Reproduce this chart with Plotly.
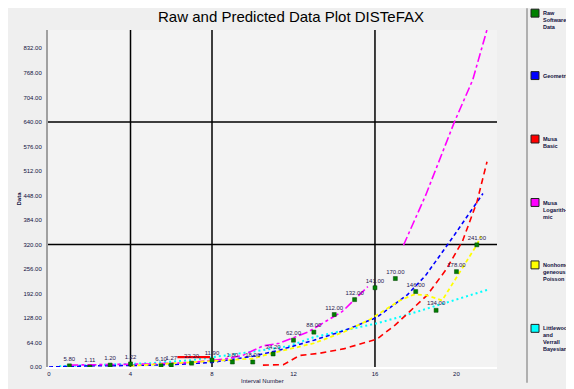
import plotly.graph_objects as go

# ---------------- data ----------------
raw_x = [1, 2, 3, 4, 5.5, 6, 7, 8, 9, 10, 11, 12, 13, 14, 15, 16, 17, 18, 19, 20, 21]
raw_y = [3, 0, 5, 8, 3, 5, 10, 18, 13, 13, 34, 70, 91, 137, 176, 207, 231, 197, 148, 249, 319]
raw_labels = ["5.80", "1.11", "1.20", "1.22", "6.10", "1.27", "22.20", "11.90", "1.80", "18.00",
              "34.20", "62.00", "88.00", "112.00", "132.00", "141.00", "170.00", "146.00",
              "134.00", "178.00", "241.00"]

geo_x = [0, 2, 4, 6, 8, 10, 11.3, 13, 14.5, 16.1, 17.6, 18.5, 19.8, 21.3]
geo_y = [0, 3, 4, 6, 12, 28, 44, 70, 95, 130, 189, 240, 337, 453]

musab_x = [10.5, 11.5, 12.3, 13.3, 14.5, 16.1, 17.0, 18.55, 19.5, 20.3, 21.0, 21.5]
musab_y = [5, 6, 30, 36, 48, 73, 110, 187, 255, 329, 430, 536]
musab_step_x = [6.3, 7.9]
musab_step_y = [26, 26]

musal_x = [1, 3, 5, 7, 8.5, 9.5, 10.5, 11.3, 12.7, 14.4, 15.65]
musal_y = [5, 6, 8, 12, 20, 30, 55, 62, 91, 145, 210]
musal_pred_x = [17.4, 18.5, 19.9, 20.8, 21.5]
musal_pred_y = [318, 450, 640, 750, 881]

nhpp_x = [4, 8.5, 10, 11, 13, 14.5, 15.75, 17.2, 17.9, 18.1, 18.55, 19.3, 20.0, 21.0, 21.2]
nhpp_y = [3, 18, 22, 37, 62, 92, 124, 173, 189, 189, 187, 174, 233, 319, 342]

lv_x = [0.5, 2.5, 5, 7, 8.8, 10, 11.8, 13, 14.5, 16.1, 17.5, 19.05, 20.3, 21.55]
lv_y = [2, 5, 10, 18, 31, 40, 55, 78, 96, 114, 135, 161, 180, 202]

y_ticks = [0, 64, 128, 192, 256, 320, 384, 448, 512, 576, 640, 704, 768, 832]
x_ticks = [0, 4, 8, 12, 16, 20]
heavy_y = [320, 640]
heavy_x = [4, 8, 16]

legend_names = ["Raw<br>Software<br>Data", "Geometric", "Musa<br>Basic",
                "Musa<br>Logarith-<br>mic", "Nonhomo-<br>geneous<br>Poisson",
                "Littlewood<br>and<br>Verrall<br>Bayesian"]
legend_colors = ["#008000", "#0000ff", "#ff0000", "#ff00ff", "#ffff00", "#00ffff"]

# ---------------- figure ----------------
fig = go.Figure()

def line(x, y, color, dash, width=1.6):
    fig.add_trace(go.Scatter(x=x, y=y, mode="lines", showlegend=False, hoverinfo="skip",
                             line=dict(color=color, dash=dash, width=width)))

line(lv_x, lv_y, "#00ffff", "2px,3px", 2)
line(geo_x, geo_y, "#0000ff", "4px,3px")
line(musab_x, musab_y, "#ff0000", "6px,4px")
line(musab_step_x, musab_step_y, "#ff0000", "solid", 2.2)
line(musal_x, musal_y, "#ff00ff", "dashdot")
line(musal_pred_x, musal_pred_y, "#ff00ff", "dashdot")
line(nhpp_x, nhpp_y, "#ffff00", "4px,3px", 1.8)

fig.add_trace(go.Scatter(
    x=raw_x, y=raw_y, mode="markers+text", text=raw_labels, textposition="top center",
    textfont=dict(size=6, color="#2a1850", family="Liberation Sans"),
    marker=dict(symbol="square", size=4, color="#008000", line=dict(color="#004000", width=0.5)),
    showlegend=False, hoverinfo="skip"))

# ---- layout geometry (screen pixels; the page body adds an 8px offset) ----
OFF = 8
W, H = 574 - OFF, 389 - OFF
L, R, T, B = 48 - OFF, 497 - OFF, 30 - OFF, 370 - OFF

def px_x(p):  # p in screen pixels
    return (p - OFF - L) / (R - L)

def px_y(p):
    return (B - (p - OFF)) / (B - T)

shapes = []
# heavy grid lines
for yv in heavy_y:
    shapes.append(dict(type="line", xref="paper", yref="y", x0=0, x1=1, y0=yv, y1=yv,
                       line=dict(color="black", width=1.5), layer="below"))
for xv in heavy_x:
    shapes.append(dict(type="line", xref="x", yref="paper", x0=xv, x1=xv, y0=0, y1=1,
                       line=dict(color="black", width=1.5), layer="below"))
# legend separator
shapes.append(dict(type="line", xref="paper", yref="paper", x0=px_x(527), x1=px_x(527),
                   y0=px_y(386), y1=px_y(8), line=dict(color="#9a9a9a", width=1.5)))

annotations = []
legend_y = [9, 72, 136, 200, 263, 327]
for name, col, ty in zip(legend_names, legend_colors, legend_y):
    shapes.append(dict(type="rect", xref="paper", yref="paper",
                       x0=px_x(531), x1=px_x(539), y0=px_y(ty + 8), y1=px_y(ty),
                       fillcolor=col, line=dict(color="#202020", width=1)))
    annotations.append(dict(xref="paper", yref="paper", x=px_x(541), y=px_y(ty - 1),
                            xanchor="left", yanchor="top", align="left", showarrow=False,
                            text="<b>" + name + "</b>",
                            font=dict(size=5.5, color="#101040", family="Liberation Sans")))

# axis titles
annotations.append(dict(xref="paper", yref="paper", x=px_x(262), y=px_y(384),
                        xanchor="center", yanchor="middle", showarrow=False,
                        text="Interval Number",
                        font=dict(size=6, color="#101040", family="Liberation Sans")))
annotations.append(dict(xref="paper", yref="paper", x=px_x(18), y=px_y(200),
                        xanchor="center", yanchor="middle", showarrow=False, textangle=-90,
                        text="<b>Data</b>",
                        font=dict(size=6, color="#101040", family="Liberation Sans")))

fig.update_layout(
    width=W, height=H,
    margin=dict(l=L, r=W - R, t=T, b=H - B, pad=0),
    paper_bgcolor="#efefef", plot_bgcolor="#f3f3f3",
    font=dict(family="Liberation Sans", size=6, color="#101040"),
    title=dict(text="Raw and Predicted Data Plot DISTeFAX", x=px_x(291), xref="paper",
               y=1 - (17 - OFF) / H, yref="container", xanchor="center", yanchor="middle",
               font=dict(size=15, color="black", family="Liberation Sans")),
    shapes=shapes, annotations=annotations, showlegend=False,
)
fig.update_xaxes(range=[-0.05, 21.99], tickvals=x_ticks, ticktext=[str(v) for v in x_ticks],
                 showgrid=False, zeroline=False, showline=True, linecolor="white", linewidth=2,
                 ticks="", tickfont=dict(size=6, color="#101040"))
fig.update_yaxes(range=[0, 880], tickvals=y_ticks, tickformat=".2f",
                 showgrid=False, zeroline=False, showline=True, linecolor="#a0a0a0", linewidth=2,
                 ticks="", ticklabelstandoff=3, tickfont=dict(size=6, color="#101040"))

fig.write_html("out.html")
